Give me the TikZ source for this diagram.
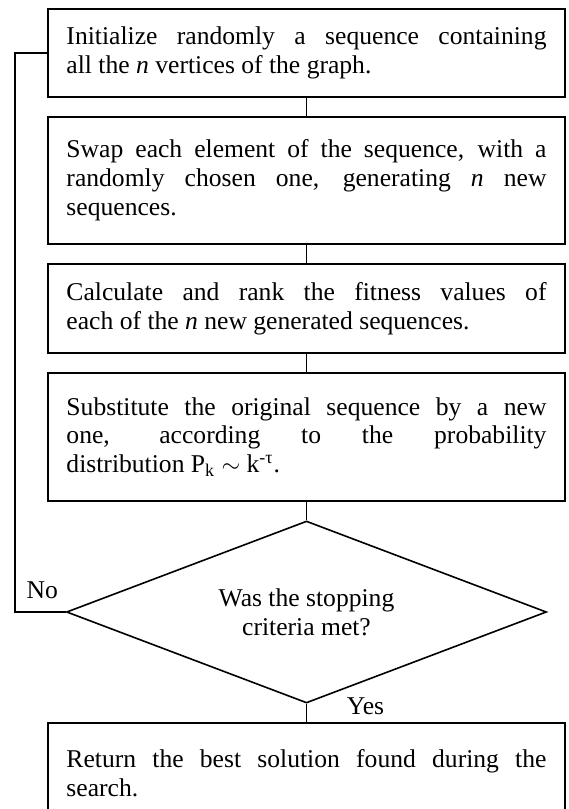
\documentclass[tikz,border=0pt]{standalone}
\usepackage{fontspec}
\setmainfont{Liberation Serif}
\usetikzlibrary{positioning,shapes.geometric}

\begin{document}
\begin{tikzpicture}[
                node distance=9.2pt,          % gap between the steps
                every node/.style={
                    font=\fontsize{12.8}{14.4}\selectfont
                },
                stepbox/.style={
                    rectangle,
                    draw,
                    line width=0.8pt,
                    text width=240pt,
                    align=justify,
                    inner xsep=9.25pt
                },
                test/.style={
                    diamond,
                    draw,
                    line width=0.8pt,
                    aspect=2.6,
                    minimum width=240pt,
                    minimum height=91pt,
                    align=center
                },
                tag/.style={anchor=base west, inner sep=0pt},
                link/.style={line width=0.8pt}
            ]
                \useasboundingbox (-153.25pt,26.5pt) rectangle (130.75pt,-378pt);

                % steps
                \node[stepbox, minimum height=44pt] (init) at (0,0)
                    {Initialize randomly a sequence containing\linebreak
                     all the \textit{n} vertices of the graph.};
                \node[stepbox, minimum height=63.5pt] (swap) [below=of init]
                    {Swap each element of the sequence, with a\linebreak
                     randomly chosen one, generating \textit{n} new\linebreak
                     sequences.};
                \node[stepbox, minimum height=44.5pt] (rank) [below=of swap]
                    {Calculate and rank the fitness values of\linebreak
                     each of the \textit{n} new generated sequences.};
                \node[stepbox, minimum height=64pt] (subst) [below=of rank]
                    {Substitute the original sequence by a new\linebreak
                     one, according to the probability\linebreak
                     distribution P\textsubscript{k} $\sim$ k\textsuperscript{-τ}.};
                \node[test] (stop) [below=of subst]
                    {Was the stopping\\criteria met?};
                \node[stepbox, minimum height=50pt] (ret) [below=of stop]
                    {Return the best solution found during the search.};

                % edges
                \draw[link] (init) -- (swap);
                \draw[link] (swap) -- (rank);
                \draw[link] (rank) -- (subst);
                \draw[link] (subst) -- (stop);
                \draw[link] (stop) -- (ret);
                \coordinate (back) at ([xshift=-16pt]init.west);
                \coordinate (turn) at (back |- stop.west);
                \draw[link] (stop.west) -- (turn) -- (back) -- (init.west);

                % labels
                \node[tag] (no) at ([xshift=5.5pt, yshift=7pt]turn) {No};
                \node[tag] (yes) at ([xshift=20pt, yshift=-5.5pt]stop.south) {Yes};
            \end{tikzpicture}
\end{document}
